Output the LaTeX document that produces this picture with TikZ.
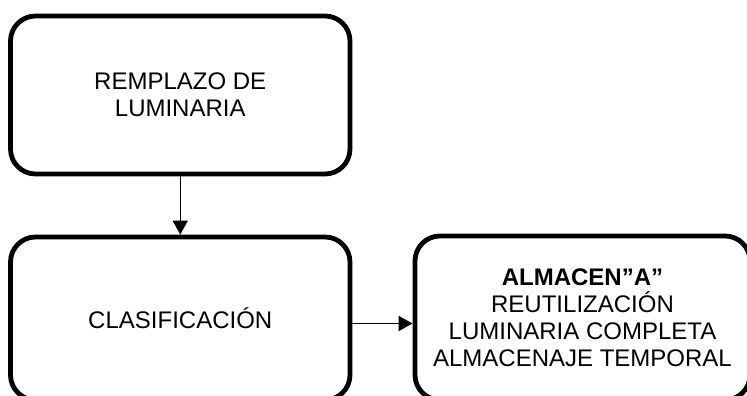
\documentclass[tikz,border=0pt]{standalone}
\usepackage{fontspec}
\setmainfont{Liberation Sans}
\usetikzlibrary{arrows.meta}
\begin{document}
\begin{tikzpicture}[x=1pt,y=-1pt,
  box/.style={draw=black,line width=4.8pt,rounded corners=25pt,align=center,
    font=\fontsize{24}{27}\selectfont,inner sep=0pt},
  arr/.style={line width=1.5pt,-{Triangle[length=14pt,width=15pt]}}]
\useasboundingbox (0,0) rectangle (747,396);
\clip (0,0) rectangle (747,396);
\node[box,minimum width=339.5pt,minimum height=158pt] (b1) at (180.25,95) {REMPLAZO DE\\LUMINARIA};
\node[box,minimum width=339.5pt,minimum height=163pt] (b2) at (180.25,318.5) {CLASIFICACIÓN};
\node[box,minimum width=335pt,minimum height=164pt] (b3) at (582.5,318) {\textbf{ALMACEN”A”}\\REUTILIZACIÓN\\LUMINARIA COMPLETA\\ALMACENAJE TEMPORAL};
\draw[arr] (b1.south) -- (b2.north);
\draw[arr] ([yshift=-5pt]b2.east) -- ([yshift=-5pt]b2.east -| b3.west);
\end{tikzpicture}
\end{document}
